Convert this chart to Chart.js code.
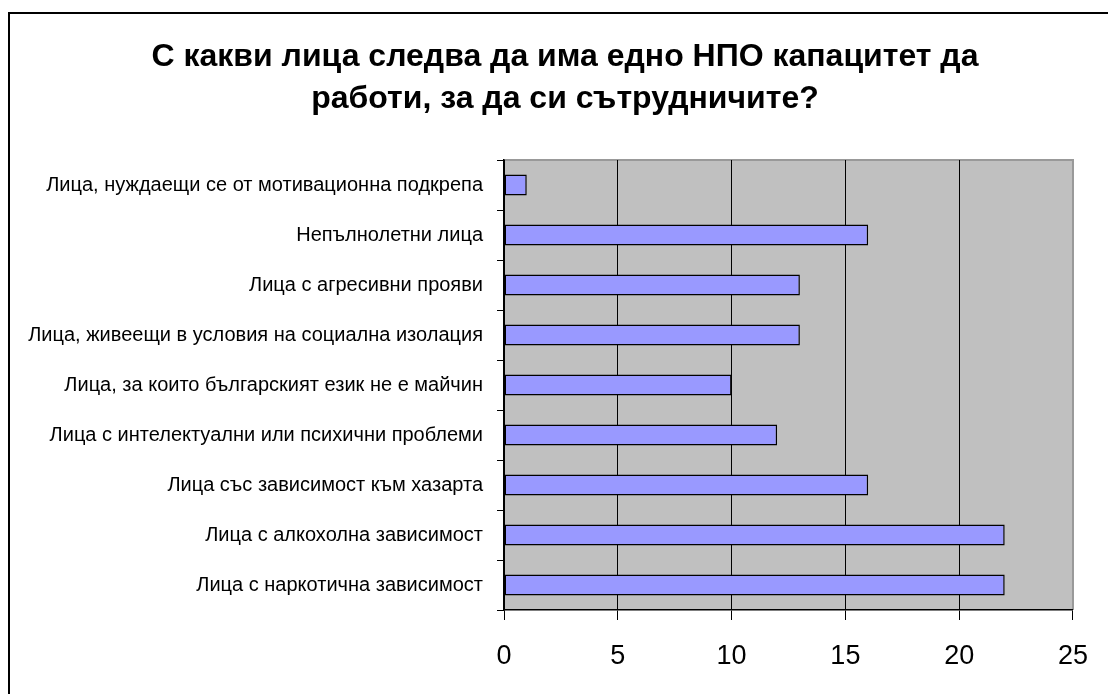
<!DOCTYPE html>
<html lang="bg">
<head>
  <meta charset="UTF-8">
  <title>НПО капацитет</title>
  <script src="https://cdn.jsdelivr.net/npm/chart.js"></script>
  <style>
    body {
      margin: 0;
      background: #fff;
      overflow: hidden;
    }
    #ramka {
      position: absolute;
      left: 8px;
      top: 12px;
      width: 1200px;
      height: 800px;
      border: 2px solid #000;
    }
    #grafika {
      position: absolute;
      left: 0;
      top: 0;
    }
  </style>
</head>
<body>

<div id="ramka"></div>
<canvas id="grafika" width="1108" height="694"></canvas>

<script>
  // категории, отгоре надолу
  var kategorii = [
    'Лица, нуждаещи се от мотивационна подкрепа',
    'Непълнолетни лица',
    'Лица с агресивни прояви',
    'Лица, живеещи в условия на социална изолация',
    'Лица, за които българският език не е майчин',
    'Лица с интелектуални или психични проблеми',
    'Лица със зависимост към хазарта',
    'Лица с алкохолна зависимост',
    'Лица с наркотична зависимост'
  ];
  var stojnosti = [1, 16, 13, 13, 10, 12, 16, 22, 22];
  var zaglavie = ['С какви лица следва да има едно НПО капацитет да', 'работи, за да си сътрудничите?'];
  var osMin = 0;
  var osMax = 25;
  var osStapka = 5;

  // сив фон на областта с графиката
  var fonPlugin = {
    id: 'fon',
    beforeDraw: function (chart) {
      var a = chart.chartArea;
      var c = chart.ctx;
      c.save();
      c.fillStyle = '#c0c0c0';
      c.fillRect(a.left, a.top, a.right - a.left, a.bottom - a.top);
      c.strokeStyle = '#999999';
      c.lineWidth = 2;
      c.beginPath();
      c.moveTo(a.left, a.top);
      c.lineTo(a.right, a.top);
      c.lineTo(a.right, a.bottom);
      c.stroke();
      c.restore();
    }
  };

  // заглавието е малко вдясно от средата, затова го рисуваме сами
  var zaglaviePlugin = {
    id: 'zaglavie',
    afterDraw: function (chart) {
      var c = chart.ctx;
      c.save();
      c.fillStyle = '#000';
      c.font = "bold 32px 'Liberation Sans', Arial, sans-serif";
      c.textAlign = 'center';
      c.textBaseline = 'alphabetic';
      for (var i = 0; i < zaglavie.length; i++) {
        c.fillText(zaglavie[i], 565, 66 + i * 42);
      }
      c.restore();
    }
  };

  var ctx = document.getElementById('grafika').getContext('2d');

  new Chart(ctx, {
    type: 'bar',
    data: {
      labels: kategorii,
      datasets: [{
        data: stojnosti,
        backgroundColor: '#9999ff',
        borderColor: '#000000',
        borderWidth: 1.5,
        borderSkipped: false,
        barPercentage: 0.42,
        categoryPercentage: 1
      }]
    },
    options: {
      indexAxis: 'y',
      responsive: false,
      animation: false,
      layout: {
        padding: { left: 8, right: 26, top: 160, bottom: 0 }
      },
      plugins: {
        legend: { display: false },
        tooltip: { enabled: false },
        title: { display: false }
      },
      scales: {
        x: {
          min: osMin,
          max: osMax,
          ticks: {
            stepSize: osStapka,
            color: '#000',
            padding: 20,
            font: { family: "'Liberation Sans', Arial, sans-serif", size: 27 }
          },
          grid: {
            color: function (c) {
              if (c.tick && c.tick.value === osMax) return '#999999';
              return '#000000';
            },
            tickColor: '#000000',
            tickLength: 10,
            lineWidth: 1
          },
          border: { color: '#000', width: 1.5 },
          afterFit: function (s) { s.height = 84; }
        },
        y: {
          ticks: {
            color: '#000',
            padding: 14,
            font: { family: "'Liberation Sans', Arial, sans-serif", size: 20 }
          },
          grid: {
            drawOnChartArea: false,
            color: '#000',
            tickLength: 7
          },
          border: { color: '#000', width: 1.5 },
          afterFit: function (s) { s.width = 496; }
        }
      }
    },
    plugins: [fonPlugin, zaglaviePlugin]
  });
</script>

</body>
</html>
